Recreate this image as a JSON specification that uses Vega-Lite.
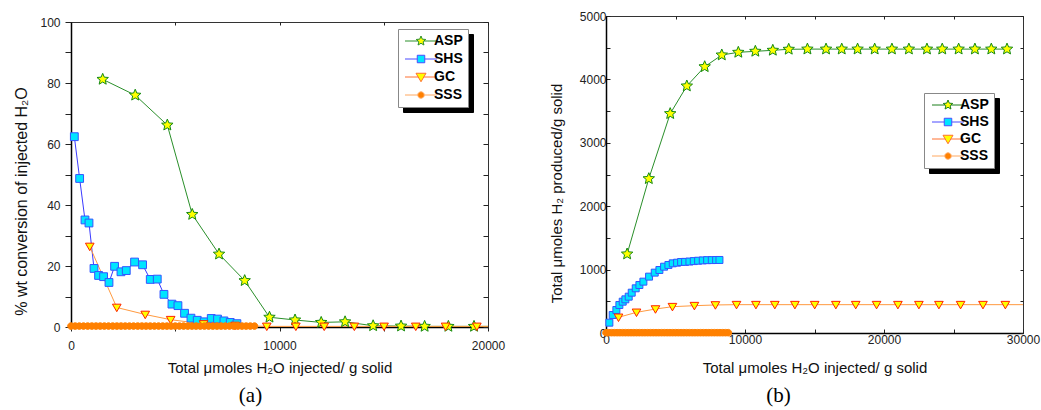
{
  "$schema": "https://vega.github.io/schema/vega-lite/v6.json",
  "background": "white",
  "padding": {"left": 12, "top": 9, "right": 0, "bottom": 0},
  "spacing": 118,
  "bounds": "flush",
  "center": true,
  "config": {
    "view": {"stroke": "#333", "strokeWidth": 1},
    "font": "Liberation Sans",
    "axis": {"labelFont": "Liberation Sans", "titleFont": "Liberation Sans", "labelColor": "#222", "titleColor": "#111", "titleFontWeight": "normal", "grid": false, "domainColor": "#000", "tickColor": "#222", "labelFontSize": 12, "labelFlush": false, "labelOverlap": false}
  },
  "hconcat": [
    {
      "width": 417,
      "height": 305,
      "title": {"text": "(a)", "orient": "bottom", "frame": "group", "anchor": "middle", "font": "Liberation Serif", "fontSize": 21, "fontWeight": "normal", "color": "#000", "dx": -29, "offset": 10},
      "data": {"values": [
        {"s": "ASP", "x": 1520, "y": 81.2}, {"s": "ASP", "x": 3080, "y": 76.0}, {"s": "ASP", "x": 4620, "y": 66.2}, {"s": "ASP", "x": 5815, "y": 36.9}, {"s": "ASP", "x": 7100, "y": 23.9}, {"s": "ASP", "x": 8330, "y": 15.2}, {"s": "ASP", "x": 9520, "y": 3.2}, {"s": "ASP", "x": 10745, "y": 2.3}, {"s": "ASP", "x": 12000, "y": 1.5}, {"s": "ASP", "x": 13145, "y": 1.7}, {"s": "ASP", "x": 14490, "y": 0.4}, {"s": "ASP", "x": 15830, "y": 0.3}, {"s": "ASP", "x": 16960, "y": 0.2}, {"s": "ASP", "x": 18100, "y": 0.2}, {"s": "ASP", "x": 19330, "y": 0.2}, {"s": "ASP", "x": 20570, "y": 0.2}, {"s": "ASP", "x": 21790, "y": 0.2},
        {"s": "SHS", "x": 160, "y": 62.4}, {"s": "SHS", "x": 414, "y": 48.7}, {"s": "SHS", "x": 671, "y": 35.1}, {"s": "SHS", "x": 863, "y": 34.1}, {"s": "SHS", "x": 1103, "y": 19.2}, {"s": "SHS", "x": 1323, "y": 16.9}, {"s": "SHS", "x": 1563, "y": 16.5}, {"s": "SHS", "x": 1822, "y": 14.6}, {"s": "SHS", "x": 2090, "y": 19.9}, {"s": "SHS", "x": 2397, "y": 18.1}, {"s": "SHS", "x": 2651, "y": 18.5}, {"s": "SHS", "x": 3049, "y": 21.3}, {"s": "SHS", "x": 3433, "y": 20.4}, {"s": "SHS", "x": 3802, "y": 15.6}, {"s": "SHS", "x": 4137, "y": 15.7}, {"s": "SHS", "x": 4458, "y": 10.7}, {"s": "SHS", "x": 4842, "y": 7.5}, {"s": "SHS", "x": 5129, "y": 7.0}, {"s": "SHS", "x": 5446, "y": 4.5}, {"s": "SHS", "x": 5753, "y": 2.9}, {"s": "SHS", "x": 6055, "y": 2.2}, {"s": "SHS", "x": 6390, "y": 1.7}, {"s": "SHS", "x": 6726, "y": 2.8}, {"s": "SHS", "x": 7028, "y": 2.6}, {"s": "SHS", "x": 7335, "y": 2.0}, {"s": "SHS", "x": 7637, "y": 1.5}, {"s": "SHS", "x": 7958, "y": 1.1},
        {"s": "GC", "x": 900, "y": 26.4}, {"s": "GC", "x": 2195, "y": 6.4}, {"s": "GC", "x": 3560, "y": 4.1}, {"s": "GC", "x": 4780, "y": 2.4}, {"s": "GC", "x": 6360, "y": 1.0}, {"s": "GC", "x": 7870, "y": 0.5}, {"s": "GC", "x": 9390, "y": 0.2}, {"s": "GC", "x": 10785, "y": 0.2}, {"s": "GC", "x": 12145, "y": 0.2}, {"s": "GC", "x": 13590, "y": 0.2}, {"s": "GC", "x": 15015, "y": 0.2}, {"s": "GC", "x": 16535, "y": 0.2}, {"s": "GC", "x": 17965, "y": 0.2}, {"s": "GC", "x": 19465, "y": 0.2}, {"s": "GC", "x": 21000, "y": 0.2},
        {"s": "SSS", "x": 0, "y": 0.3}, {"s": "SSS", "x": 200, "y": 0.3}, {"s": "SSS", "x": 400, "y": 0.3}, {"s": "SSS", "x": 600, "y": 0.3}, {"s": "SSS", "x": 800, "y": 0.3}, {"s": "SSS", "x": 1000, "y": 0.3}, {"s": "SSS", "x": 1200, "y": 0.3}, {"s": "SSS", "x": 1400, "y": 0.3}, {"s": "SSS", "x": 1600, "y": 0.3}, {"s": "SSS", "x": 1800, "y": 0.3}, {"s": "SSS", "x": 2000, "y": 0.3}, {"s": "SSS", "x": 2200, "y": 0.3}, {"s": "SSS", "x": 2400, "y": 0.3}, {"s": "SSS", "x": 2600, "y": 0.3}, {"s": "SSS", "x": 2800, "y": 0.3}, {"s": "SSS", "x": 3000, "y": 0.3}, {"s": "SSS", "x": 3200, "y": 0.3}, {"s": "SSS", "x": 3400, "y": 0.3}, {"s": "SSS", "x": 3600, "y": 0.3}, {"s": "SSS", "x": 3800, "y": 0.3}, {"s": "SSS", "x": 4000, "y": 0.3}, {"s": "SSS", "x": 4200, "y": 0.3}, {"s": "SSS", "x": 4400, "y": 0.3}, {"s": "SSS", "x": 4600, "y": 0.3}, {"s": "SSS", "x": 4800, "y": 0.3}, {"s": "SSS", "x": 5000, "y": 0.3}, {"s": "SSS", "x": 5200, "y": 0.3}, {"s": "SSS", "x": 5400, "y": 0.3}, {"s": "SSS", "x": 5600, "y": 0.3}, {"s": "SSS", "x": 5800, "y": 0.3}, {"s": "SSS", "x": 6000, "y": 0.3}, {"s": "SSS", "x": 6200, "y": 0.3}, {"s": "SSS", "x": 6400, "y": 0.3}, {"s": "SSS", "x": 6600, "y": 0.3}, {"s": "SSS", "x": 6800, "y": 0.3}, {"s": "SSS", "x": 7000, "y": 0.3}, {"s": "SSS", "x": 7200, "y": 0.3}, {"s": "SSS", "x": 7400, "y": 0.3}, {"s": "SSS", "x": 7600, "y": 0.3}, {"s": "SSS", "x": 7800, "y": 0.3}, {"s": "SSS", "x": 8000, "y": 0.3}, {"s": "SSS", "x": 8200, "y": 0.3}, {"s": "SSS", "x": 8400, "y": 0.3}, {"s": "SSS", "x": 8600, "y": 0.3}, {"s": "SSS", "x": 8800, "y": 0.3}
      ]},
      "layer": [
        {
          "mark": {"type": "line", "strokeWidth": 1, "clip": true},
          "encoding": {
            "x": {"field": "x", "type": "quantitative", "scale": {"domain": [0, 20000], "nice": false, "zero": false},
              "axis": {"orient": "bottom", "values": [0, 5000, 10000, 15000, 20000], "format": "d", "labelExpr": "datum.value % 10000 === 0 ? datum.label : ''", "tickSize": 4, "labelPadding": 9, "domainWidth": 1.5, "title": "Total μmoles H₂O injected/ g solid", "titleFontSize": 15, "titleBaseline": "top", "titleY": 33}},
            "y": {"field": "y", "type": "quantitative", "scale": {"domain": [0, 100], "nice": false},
              "axis": {"orient": "left", "values": [0, 10, 20, 30, 40, 50, 60, 70, 80, 90, 100], "labelExpr": "datum.value % 20 === 0 ? datum.label : ''", "tickSize": 6, "labelPadding": 5, "domainWidth": 1.5, "title": "% wt conversion of injected H₂O", "titleFontSize": 16, "titleAngle": 270, "titleBaseline": "bottom", "titleX": -42, "titleY": 179}},
            "color": {"field": "s", "type": "nominal", "scale": {"domain": ["ASP", "SHS", "GC", "SSS"], "range": ["#2a8f2a", "#3a3aff", "#ff9a40", "#ff8000"]}, "legend": null}
          }
        },
        {
          "transform": [{"filter": "datum.x <= 20000"}],
          "mark": {"type": "point", "filled": true, "opacity": 1, "strokeWidth": 1, "size": 144},
          "encoding": {
            "x": {"field": "x", "type": "quantitative", "axis": {"orient": "top", "values": [0, 5000, 10000, 15000, 20000], "labels": false, "tickSize": -3, "domain": false, "title": null}},
            "y": {"field": "y", "type": "quantitative", "axis": {"orient": "right", "values": [0, 10, 20, 30, 40, 50, 60, 70, 80, 90, 100], "labels": false, "tickSize": -5, "domain": false, "title": null}},
            "shape": {"field": "s", "type": "nominal", "scale": {"domain": ["ASP", "SHS", "GC", "SSS"], "range": [
              "M0,-1L0.265,-0.364L0.951,-0.309L0.428,0.139L0.588,0.809L0,0.45L-0.588,0.809L-0.428,0.139L-0.951,-0.309L-0.265,-0.364Z",
              "M-0.65,-0.65L0.65,-0.65L0.65,0.65L-0.65,0.65Z",
              "M-0.72,-0.55L0.72,-0.55L0,0.7Z",
              "M-0.55,0A0.55,0.55,0,1,1,0.55,0A0.55,0.55,0,1,1,-0.55,0Z"]}, "legend": null},
            "fill": {"field": "s", "type": "nominal", "scale": {"domain": ["ASP", "SHS", "GC", "SSS"], "range": ["#ffff00", "#00e5ff", "#ffff00", "#ff8000"]}, "legend": null},
            "stroke": {"field": "s", "type": "nominal", "scale": {"domain": ["ASP", "SHS", "GC", "SSS"], "range": ["#138a13", "#3355ff", "#ff2200", "#ff8000"]}, "legend": null}
          }
        },
        {
          "transform": [{"aggregate": [{"op": "count", "as": "n"}], "groupby": ["s"]}],
          "mark": {"type": "point", "opacity": 0},
          "encoding": {
            "shape": {"field": "s", "type": "nominal", "scale": {"domain": ["ASP", "SHS", "GC", "SSS"], "range": [
              "M-3.2,0L-0.6,0M0.6,0L3.2,0M0,-1L0.265,-0.364L0.951,-0.309L0.428,0.139L0.588,0.809L0,0.45L-0.588,0.809L-0.428,0.139L-0.951,-0.309L-0.265,-0.364Z",
              "M-3.2,0L-0.75,0M0.75,0L3.2,0M-0.75,-0.75L0.75,-0.75L0.75,0.75L-0.75,0.75Z",
              "M-3.2,0L-0.56,0M0.56,0L3.2,0M-1,-0.75L1,-0.75L0,0.95Z",
              "M-3.2,0L-0.65,0M0.65,0L3.2,0M0.65,0L0.563,0.325L0.325,0.563L0,0.65L-0.325,0.563L-0.563,0.325L-0.65,0L-0.563,-0.325L-0.325,-0.563L0,-0.65L0.325,-0.563L0.563,-0.325Z"]},
              "legend": {"title": null, "orient": "none", "legendX": 332, "legendY": 12, "fillColor": "#000", "strokeColor": "#000", "padding": 5, "labelFont": "Liberation Sans", "labelFontSize": 14, "labelFontWeight": "bold", "labelColor": "#000", "symbolSize": 100, "symbolStrokeWidth": 1, "symbolOpacity": 1, "symbolFillColor": "#000", "symbolStrokeColor": "#000", "symbolOffset": 11, "labelOffset": 6, "rowPadding": 4, "zindex": 1}}
          }
        },
        {
          "mark": {"type": "point", "opacity": 0},
          "encoding": {
            "shape": {"field": "s", "type": "nominal", "scale": {"domain": ["ASP", "SHS", "GC", "SSS"], "range": [
              "M-3.2,0L-0.6,0M0.6,0L3.2,0M0,-1L0.265,-0.364L0.951,-0.309L0.428,0.139L0.588,0.809L0,0.45L-0.588,0.809L-0.428,0.139L-0.951,-0.309L-0.265,-0.364Z",
              "M-3.2,0L-0.75,0M0.75,0L3.2,0M-0.75,-0.75L0.75,-0.75L0.75,0.75L-0.75,0.75Z",
              "M-3.2,0L-0.56,0M0.56,0L3.2,0M-1,-0.75L1,-0.75L0,0.95Z",
              "M-3.2,0L-0.65,0M0.65,0L3.2,0M0.65,0L0.563,0.325L0.325,0.563L0,0.65L-0.325,0.563L-0.563,0.325L-0.65,0L-0.563,-0.325L-0.325,-0.563L0,-0.65L0.325,-0.563L0.563,-0.325Z"]},
              "legend": {"title": null, "orient": "none", "legendX": 327, "legendY": 7, "fillColor": "#fff", "strokeColor": "#888", "padding": 5, "labelFont": "Liberation Sans", "labelFontSize": 14, "labelFontWeight": "bold", "labelColor": "#000", "symbolSize": 100, "symbolStrokeWidth": 1, "symbolOpacity": 1, "symbolOffset": 11, "labelOffset": 6, "rowPadding": 4, "zindex": 2}},
            "fill": {"field": "s", "type": "nominal", "scale": {"domain": ["ASP", "SHS", "GC", "SSS"], "range": ["#ffff00", "#00e5ff", "#ffff00", "#ff8000"]},
              "legend": {"title": null, "orient": "none", "legendX": 327, "legendY": 7, "fillColor": "#fff", "strokeColor": "#888", "padding": 5, "labelFont": "Liberation Sans", "labelFontSize": 14, "labelFontWeight": "bold", "labelColor": "#000", "symbolSize": 100, "symbolStrokeWidth": 1, "symbolOpacity": 1, "symbolOffset": 11, "labelOffset": 6, "rowPadding": 4, "zindex": 2}},
            "stroke": {"field": "s", "type": "nominal", "scale": {"domain": ["ASP", "SHS", "GC", "SSS"], "range": ["#2a8f2a", "#4b4bff", "#ff7030", "#ffa860"]},
              "legend": {"title": null, "orient": "none", "legendX": 327, "legendY": 7, "fillColor": "#fff", "strokeColor": "#888", "padding": 5, "labelFont": "Liberation Sans", "labelFontSize": 14, "labelFontWeight": "bold", "labelColor": "#000", "symbolSize": 100, "symbolStrokeWidth": 1, "symbolOpacity": 1, "symbolOffset": 11, "labelOffset": 6, "rowPadding": 4, "zindex": 2}}
          }
        }
      ],
      "resolve": {"scale": {"shape": "independent", "fill": "independent", "stroke": "independent"}, "axis": {"x": "independent", "y": "independent"}}
    },
    {
      "width": 417,
      "height": 317,
      "title": {"text": "(b)", "orient": "bottom", "frame": "group", "anchor": "middle", "font": "Liberation Serif", "fontSize": 21, "fontWeight": "normal", "color": "#000", "dx": -36, "offset": 10},
      "data": {"values": [
        {"s": "ASP", "x": 1520, "y": 1246}, {"s": "ASP", "x": 3080, "y": 2434}, {"s": "ASP", "x": 4620, "y": 3460}, {"s": "ASP", "x": 5815, "y": 3896}, {"s": "ASP", "x": 7100, "y": 4200}, {"s": "ASP", "x": 8330, "y": 4385}, {"s": "ASP", "x": 9520, "y": 4427}, {"s": "ASP", "x": 10745, "y": 4443}, {"s": "ASP", "x": 12000, "y": 4459}, {"s": "ASP", "x": 13145, "y": 4475}, {"s": "ASP", "x": 14490, "y": 4478}, {"s": "ASP", "x": 15830, "y": 4478}, {"s": "ASP", "x": 16960, "y": 4478}, {"s": "ASP", "x": 18100, "y": 4478}, {"s": "ASP", "x": 19330, "y": 4478}, {"s": "ASP", "x": 20570, "y": 4478}, {"s": "ASP", "x": 21790, "y": 4478}, {"s": "ASP", "x": 23090, "y": 4478}, {"s": "ASP", "x": 24190, "y": 4478}, {"s": "ASP", "x": 25370, "y": 4478}, {"s": "ASP", "x": 26540, "y": 4478}, {"s": "ASP", "x": 27720, "y": 4478}, {"s": "ASP", "x": 28850, "y": 4478},
        {"s": "SHS", "x": 243, "y": 163}, {"s": "SHS", "x": 482, "y": 284}, {"s": "SHS", "x": 746, "y": 363}, {"s": "SHS", "x": 962, "y": 442}, {"s": "SHS", "x": 1202, "y": 494}, {"s": "SHS", "x": 1394, "y": 531}, {"s": "SHS", "x": 1634, "y": 573}, {"s": "SHS", "x": 1850, "y": 636}, {"s": "SHS", "x": 2138, "y": 705}, {"s": "SHS", "x": 2402, "y": 757}, {"s": "SHS", "x": 2690, "y": 810}, {"s": "SHS", "x": 3098, "y": 889}, {"s": "SHS", "x": 3506, "y": 952}, {"s": "SHS", "x": 3842, "y": 994}, {"s": "SHS", "x": 4178, "y": 1046}, {"s": "SHS", "x": 4490, "y": 1073}, {"s": "SHS", "x": 4802, "y": 1099}, {"s": "SHS", "x": 5114, "y": 1109}, {"s": "SHS", "x": 5402, "y": 1120}, {"s": "SHS", "x": 5690, "y": 1122}, {"s": "SHS", "x": 6002, "y": 1127}, {"s": "SHS", "x": 6314, "y": 1134}, {"s": "SHS", "x": 6626, "y": 1140}, {"s": "SHS", "x": 6962, "y": 1145}, {"s": "SHS", "x": 7274, "y": 1149}, {"s": "SHS", "x": 7610, "y": 1150}, {"s": "SHS", "x": 7922, "y": 1151}, {"s": "SHS", "x": 8162, "y": 1152},
        {"s": "GC", "x": 900, "y": 247}, {"s": "GC", "x": 2195, "y": 326}, {"s": "GC", "x": 3560, "y": 378}, {"s": "GC", "x": 4780, "y": 415}, {"s": "GC", "x": 6360, "y": 431}, {"s": "GC", "x": 7870, "y": 442}, {"s": "GC", "x": 9390, "y": 447}, {"s": "GC", "x": 10785, "y": 447}, {"s": "GC", "x": 12145, "y": 447}, {"s": "GC", "x": 13590, "y": 447}, {"s": "GC", "x": 15015, "y": 447}, {"s": "GC", "x": 16535, "y": 447}, {"s": "GC", "x": 17965, "y": 447}, {"s": "GC", "x": 19465, "y": 447}, {"s": "GC", "x": 21000, "y": 447}, {"s": "GC", "x": 22510, "y": 447}, {"s": "GC", "x": 23950, "y": 447}, {"s": "GC", "x": 25510, "y": 447}, {"s": "GC", "x": 27120, "y": 447}, {"s": "GC", "x": 28730, "y": 447}, {"s": "GC", "x": 30300, "y": 447},
        {"s": "SSS", "x": 0, "y": 5}, {"s": "SSS", "x": 200, "y": 5}, {"s": "SSS", "x": 400, "y": 5}, {"s": "SSS", "x": 600, "y": 5}, {"s": "SSS", "x": 800, "y": 5}, {"s": "SSS", "x": 1000, "y": 5}, {"s": "SSS", "x": 1200, "y": 5}, {"s": "SSS", "x": 1400, "y": 5}, {"s": "SSS", "x": 1600, "y": 5}, {"s": "SSS", "x": 1800, "y": 5}, {"s": "SSS", "x": 2000, "y": 5}, {"s": "SSS", "x": 2200, "y": 5}, {"s": "SSS", "x": 2400, "y": 5}, {"s": "SSS", "x": 2600, "y": 5}, {"s": "SSS", "x": 2800, "y": 5}, {"s": "SSS", "x": 3000, "y": 5}, {"s": "SSS", "x": 3200, "y": 5}, {"s": "SSS", "x": 3400, "y": 5}, {"s": "SSS", "x": 3600, "y": 5}, {"s": "SSS", "x": 3800, "y": 5}, {"s": "SSS", "x": 4000, "y": 5}, {"s": "SSS", "x": 4200, "y": 5}, {"s": "SSS", "x": 4400, "y": 5}, {"s": "SSS", "x": 4600, "y": 5}, {"s": "SSS", "x": 4800, "y": 5}, {"s": "SSS", "x": 5000, "y": 5}, {"s": "SSS", "x": 5200, "y": 5}, {"s": "SSS", "x": 5400, "y": 5}, {"s": "SSS", "x": 5600, "y": 5}, {"s": "SSS", "x": 5800, "y": 5}, {"s": "SSS", "x": 6000, "y": 5}, {"s": "SSS", "x": 6200, "y": 5}, {"s": "SSS", "x": 6400, "y": 5}, {"s": "SSS", "x": 6600, "y": 5}, {"s": "SSS", "x": 6800, "y": 5}, {"s": "SSS", "x": 7000, "y": 5}, {"s": "SSS", "x": 7200, "y": 5}, {"s": "SSS", "x": 7400, "y": 5}, {"s": "SSS", "x": 7600, "y": 5}, {"s": "SSS", "x": 7800, "y": 5}, {"s": "SSS", "x": 8000, "y": 5}, {"s": "SSS", "x": 8200, "y": 5}, {"s": "SSS", "x": 8400, "y": 5}, {"s": "SSS", "x": 8600, "y": 5}, {"s": "SSS", "x": 8800, "y": 5}
      ]},
      "layer": [
        {
          "mark": {"type": "line", "strokeWidth": 1, "clip": true},
          "encoding": {
            "x": {"field": "x", "type": "quantitative", "scale": {"domain": [0, 30000], "nice": false},
              "axis": {"orient": "bottom", "values": [0, 5000, 10000, 15000, 20000, 25000, 30000], "format": "d", "labelExpr": "datum.value % 10000 === 0 ? datum.label : ''", "tickSize": -4, "labelPadding": 5, "domainWidth": 1.5, "title": "Total μmoles H₂O injected/ g solid", "titleFontSize": 15, "titleBaseline": "top", "titleY": 27}},
            "y": {"field": "y", "type": "quantitative", "scale": {"domain": [0, 5000], "nice": false},
              "axis": {"orient": "left", "values": [0, 500, 1000, 1500, 2000, 2500, 3000, 3500, 4000, 4500, 5000], "format": "d", "labelExpr": "datum.value % 1000 === 0 ? datum.label : ''", "tickSize": -4, "labelPadding": 4, "domainWidth": 1.5, "title": "Total μmoles H₂ produced/g solid", "titleFontSize": 15, "titleAngle": 270, "titleBaseline": "bottom", "titleX": -42, "titleY": 177}},
            "color": {"field": "s", "type": "nominal", "scale": {"domain": ["ASP", "SHS", "GC", "SSS"], "range": ["#2a8f2a", "#3a3aff", "#ff9a40", "#ff8000"]}, "legend": null}
          }
        },
        {
          "transform": [{"filter": "datum.x <= 30000"}],
          "mark": {"type": "point", "filled": true, "opacity": 1, "strokeWidth": 1, "size": 144},
          "encoding": {
            "x": {"field": "x", "type": "quantitative", "axis": {"orient": "top", "values": [0, 5000, 10000, 15000, 20000, 25000, 30000], "labels": false, "tickSize": -3, "domain": false, "title": null}},
            "y": {"field": "y", "type": "quantitative", "axis": {"orient": "right", "values": [0, 500, 1000, 1500, 2000, 2500, 3000, 3500, 4000, 4500, 5000], "labels": false, "tickSize": -3, "domain": false, "title": null}},
            "shape": {"field": "s", "type": "nominal", "scale": {"domain": ["ASP", "SHS", "GC", "SSS"], "range": [
              "M0,-1L0.265,-0.364L0.951,-0.309L0.428,0.139L0.588,0.809L0,0.45L-0.588,0.809L-0.428,0.139L-0.951,-0.309L-0.265,-0.364Z",
              "M-0.58,-0.58L0.58,-0.58L0.58,0.58L-0.58,0.58Z",
              "M-0.72,-0.55L0.72,-0.55L0,0.7Z",
              "M-0.55,0A0.55,0.55,0,1,1,0.55,0A0.55,0.55,0,1,1,-0.55,0Z"]}, "legend": null},
            "fill": {"field": "s", "type": "nominal", "scale": {"domain": ["ASP", "SHS", "GC", "SSS"], "range": ["#ffff00", "#00e5ff", "#ffff00", "#ff8000"]}, "legend": null},
            "stroke": {"field": "s", "type": "nominal", "scale": {"domain": ["ASP", "SHS", "GC", "SSS"], "range": ["#138a13", "#3355ff", "#ff2200", "#ff8000"]}, "legend": null}
          }
        },
        {
          "transform": [{"aggregate": [{"op": "count", "as": "n"}], "groupby": ["s"]}],
          "mark": {"type": "point", "opacity": 0},
          "encoding": {
            "shape": {"field": "s", "type": "nominal", "scale": {"domain": ["ASP", "SHS", "GC", "SSS"], "range": [
              "M-3.2,0L-0.6,0M0.6,0L3.2,0M0,-1L0.265,-0.364L0.951,-0.309L0.428,0.139L0.588,0.809L0,0.45L-0.588,0.809L-0.428,0.139L-0.951,-0.309L-0.265,-0.364Z",
              "M-3.2,0L-0.75,0M0.75,0L3.2,0M-0.75,-0.75L0.75,-0.75L0.75,0.75L-0.75,0.75Z",
              "M-3.2,0L-0.56,0M0.56,0L3.2,0M-1,-0.75L1,-0.75L0,0.95Z",
              "M-3.2,0L-0.65,0M0.65,0L3.2,0M0.65,0L0.563,0.325L0.325,0.563L0,0.65L-0.325,0.563L-0.563,0.325L-0.65,0L-0.563,-0.325L-0.325,-0.563L0,-0.65L0.325,-0.563L0.563,-0.325Z"]},
              "legend": {"title": null, "orient": "none", "legendX": 323, "legendY": 82, "fillColor": "#000", "strokeColor": "#000", "padding": 5, "labelFont": "Liberation Sans", "labelFontSize": 14, "labelFontWeight": "bold", "labelColor": "#000", "symbolSize": 100, "symbolStrokeWidth": 1, "symbolOpacity": 1, "symbolFillColor": "#000", "symbolStrokeColor": "#000", "symbolOffset": 12, "labelOffset": 5, "rowPadding": 3, "zindex": 1}}
          }
        },
        {
          "mark": {"type": "point", "opacity": 0},
          "encoding": {
            "shape": {"field": "s", "type": "nominal", "scale": {"domain": ["ASP", "SHS", "GC", "SSS"], "range": [
              "M-3.2,0L-0.6,0M0.6,0L3.2,0M0,-1L0.265,-0.364L0.951,-0.309L0.428,0.139L0.588,0.809L0,0.45L-0.588,0.809L-0.428,0.139L-0.951,-0.309L-0.265,-0.364Z",
              "M-3.2,0L-0.75,0M0.75,0L3.2,0M-0.75,-0.75L0.75,-0.75L0.75,0.75L-0.75,0.75Z",
              "M-3.2,0L-0.56,0M0.56,0L3.2,0M-1,-0.75L1,-0.75L0,0.95Z",
              "M-3.2,0L-0.65,0M0.65,0L3.2,0M0.65,0L0.563,0.325L0.325,0.563L0,0.65L-0.325,0.563L-0.563,0.325L-0.65,0L-0.563,-0.325L-0.325,-0.563L0,-0.65L0.325,-0.563L0.563,-0.325Z"]},
              "legend": {"title": null, "orient": "none", "legendX": 318, "legendY": 77, "fillColor": "#fff", "strokeColor": "#888", "padding": 5, "labelFont": "Liberation Sans", "labelFontSize": 14, "labelFontWeight": "bold", "labelColor": "#000", "symbolSize": 100, "symbolStrokeWidth": 1, "symbolOpacity": 1, "symbolOffset": 12, "labelOffset": 5, "rowPadding": 3, "zindex": 2}},
            "fill": {"field": "s", "type": "nominal", "scale": {"domain": ["ASP", "SHS", "GC", "SSS"], "range": ["#ffff00", "#00e5ff", "#ffff00", "#ff8000"]},
              "legend": {"title": null, "orient": "none", "legendX": 318, "legendY": 77, "fillColor": "#fff", "strokeColor": "#888", "padding": 5, "labelFont": "Liberation Sans", "labelFontSize": 14, "labelFontWeight": "bold", "labelColor": "#000", "symbolSize": 100, "symbolStrokeWidth": 1, "symbolOpacity": 1, "symbolOffset": 12, "labelOffset": 5, "rowPadding": 3, "zindex": 2}},
            "stroke": {"field": "s", "type": "nominal", "scale": {"domain": ["ASP", "SHS", "GC", "SSS"], "range": ["#1a7f1a", "#4b4bff", "#ff7030", "#ffa860"]},
              "legend": {"title": null, "orient": "none", "legendX": 318, "legendY": 77, "fillColor": "#fff", "strokeColor": "#888", "padding": 5, "labelFont": "Liberation Sans", "labelFontSize": 14, "labelFontWeight": "bold", "labelColor": "#000", "symbolSize": 100, "symbolStrokeWidth": 1, "symbolOpacity": 1, "symbolOffset": 12, "labelOffset": 5, "rowPadding": 3, "zindex": 2}}
          }
        }
      ],
      "resolve": {"scale": {"shape": "independent", "fill": "independent", "stroke": "independent"}, "axis": {"x": "independent", "y": "independent"}}
    }
  ]
}
